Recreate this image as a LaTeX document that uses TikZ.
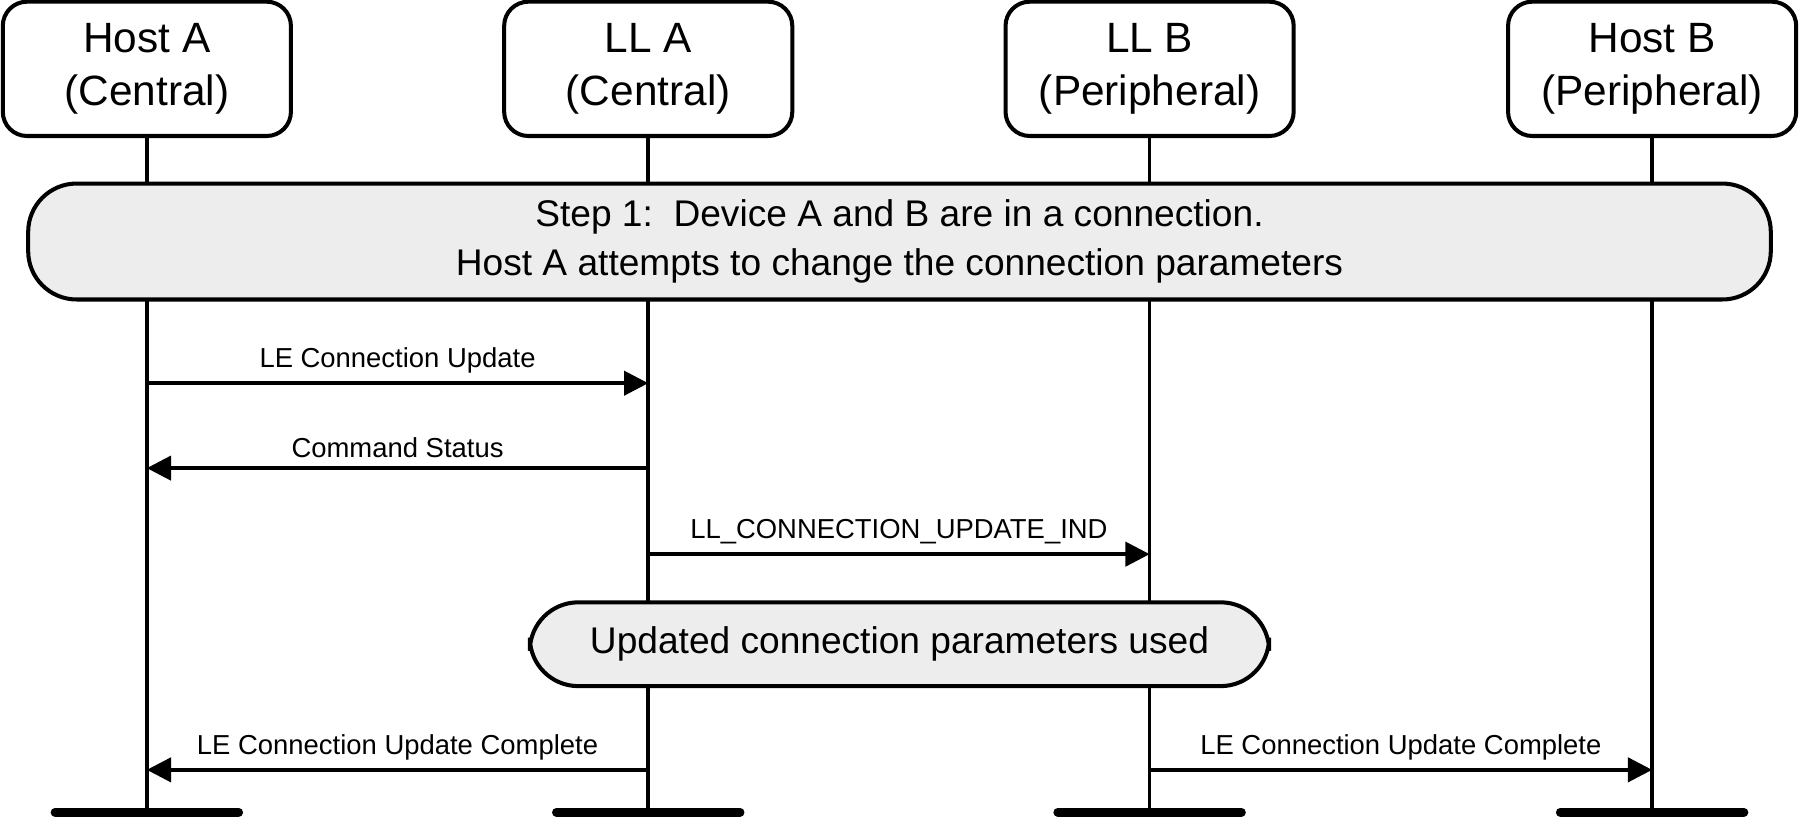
\documentclass[tikz,border=0pt]{standalone}
\usepackage{fontspec}
\setmainfont{Liberation Sans}
\usetikzlibrary{arrows.meta,positioning}
\begin{document}
\begin{tikzpicture}
    [   x=0.01cm, y=-0.01cm
    ,   party/.style=
        {   draw, line width=1pt, rounded corners=6pt
        ,   minimum width=2.51cm, minimum height=1.17cm
        ,   align=center, inner sep=0pt, font=\fontsize{10.5}{13}\selectfont
        }
    ,   phase/.style=
        {   draw, line width=1pt, fill=black!7, rounded corners=12pt
        ,   align=center, inner sep=0pt, font=\fontsize{9.2}{12}\selectfont
        }
    ,   msg/.style={line width=0.9pt, -{Triangle[length=6pt,width=6pt]}}
    ,   lbl/.style={above, inner sep=2pt, font=\fontsize{6.8}{8}\selectfont}
    ,   life/.style={line width=0.9pt}
    ,   foot/.style={line width=2.2pt, line cap=round}
    ]
    \useasboundingbox (0,0) rectangle (1568,712);
    % participants
    \node[party] (hA) at (128,60)  {Host A\\(Central)};
    \node[party] (lA) at (565,60)  {LL A\\(Central)};
    \node[party] (lB) at (1002,60) {LL B\\(Peripheral)};
    \node[party] (hB) at (1440,60) {Host B\\(Peripheral)};
    % lifeline ends
    \foreach \n/\x in {hA/128,lA/565,lB/1002,hB/1440}
    {   \coordinate (\n e) at (\x,708);
        \draw[life] (\n) -- (\n e);
        \draw[foot] (\x-80,708) -- (\x+80,708);
    }
    % phases
    \node[phase, minimum width=15.18cm, minimum height=1.01cm] (s1) at (784,210.5)
        {Step 1:\ \ Device A and B are in a connection.\\Host A attempts to change the connection parameters};
    \node[phase, minimum width=6.44cm, minimum height=0.73cm] (s2) at (784,561.5)
        {Updated connection parameters used};
    % messages
    \coordinate (hA1) at (128,334); \coordinate (lA1) at (565,334);
    \coordinate (hA2) at (128,408); \coordinate (lA2) at (565,408);
    \coordinate (lA3) at (565,483); \coordinate (lB3) at (1002,483);
    \coordinate (hA4) at (128,671); \coordinate (lA4) at (565,671);
    \coordinate (lB4) at (1002,671); \coordinate (hB4) at (1440,671);
    \draw[msg] (hA1) -- node[lbl] {LE Connection Update} (lA1);
    \draw[msg] (lA2) -- node[lbl] {Command Status} (hA2);
    \draw[msg] (lA3) -- node[lbl] {LL\_CONNECTION\_UPDATE\_IND} (lB3);
    \draw[msg] (lA4) -- node[lbl] {LE Connection Update Complete} (hA4);
    \draw[msg] (lB4) -- node[lbl] {LE Connection Update Complete} (hB4);
\end{tikzpicture}
\end{document}
